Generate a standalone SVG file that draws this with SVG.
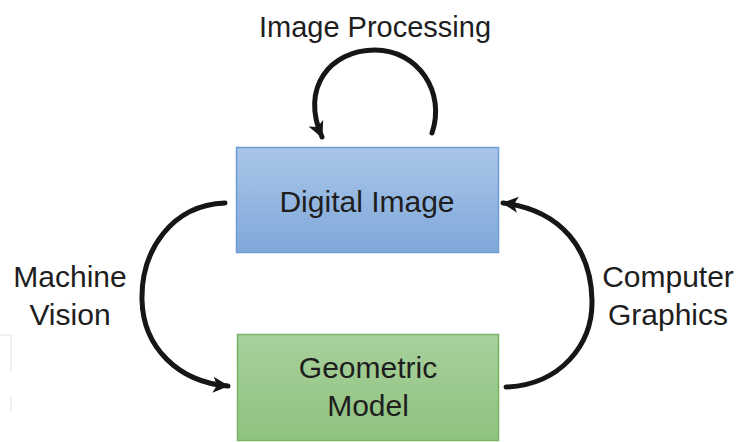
<svg xmlns="http://www.w3.org/2000/svg" width="739" height="442" viewBox="0 0 739 442">
  <style>
    .label { font-family: "Liberation Sans", Arial, sans-serif; font-size: 30px; fill: #1e1e1e; text-anchor: middle; }
    .edge { fill: none; stroke: #161616; stroke-width: 5; stroke-linecap: round; }
  </style>
  <defs>
    <linearGradient id="blueFill" x1="0" y1="0" x2="0" y2="1">
      <stop offset="0" stop-color="#a9c6e8"/>
      <stop offset="1" stop-color="#80a8da"/>
    </linearGradient>
    <linearGradient id="greenFill" x1="0" y1="0" x2="0" y2="1">
      <stop offset="0" stop-color="#a8d09c"/>
      <stop offset="1" stop-color="#8fc37f"/>
    </linearGradient>
    <marker id="head" markerUnits="userSpaceOnUse" markerWidth="20" markerHeight="20" viewBox="0 0 20 20" refX="17" refY="10" orient="auto">
      <path d="M2,2 L18,10 L2,18 L6,10 Z" fill="#161616"/>
    </marker>
  </defs>

  <rect width="739" height="442" fill="#ffffff"/>

  <!-- faint frame edge at the left margin -->
  <path d="M0,335 H11 V372 M11,396 V411" fill="none" stroke="#ececec" stroke-width="1.5"/>

  <g id="digital-image">
    <rect x="236.5" y="147.5" width="262" height="105" fill="url(#blueFill)" stroke="#6f9cd4" stroke-width="1.5"/>
    <text class="label" x="367" y="212">Digital Image</text>
  </g>

  <g id="geometric-model">
    <rect x="237.5" y="334.5" width="261" height="106" fill="url(#greenFill)" stroke="#78b267" stroke-width="1.5"/>
    <text class="label" x="368" y="378">Geometric</text>
    <text class="label" x="368" y="416">Model</text>
  </g>

  <g id="edge-labels">
    <text class="label" x="375" y="37" style="font-size:29px">Image Processing</text>
    <text class="label" x="70" y="287">Machine</text>
    <text class="label" x="70" y="325">Vision</text>
    <text class="label" x="668" y="287">Computer</text>
    <text class="label" x="668" y="325">Graphics</text>
  </g>

  <g id="connectors">
    <!-- image processing loop on the digital image -->
    <path class="edge" marker-end="url(#head)" d="M432,133 C446,92 418,50 375,50 C330,50 300,88 322,137"/>
    <!-- machine vision: digital image to geometric model -->
    <path class="edge" marker-end="url(#head)" d="M225,203 C172,205 141,250 142,300 C143,347 178,382 228,386"/>
    <!-- computer graphics: geometric model to digital image -->
    <path class="edge" marker-end="url(#head)" d="M506,387 C560,385 593,345 592,300 C591,250 562,210 503,203"/>
  </g>
</svg>
